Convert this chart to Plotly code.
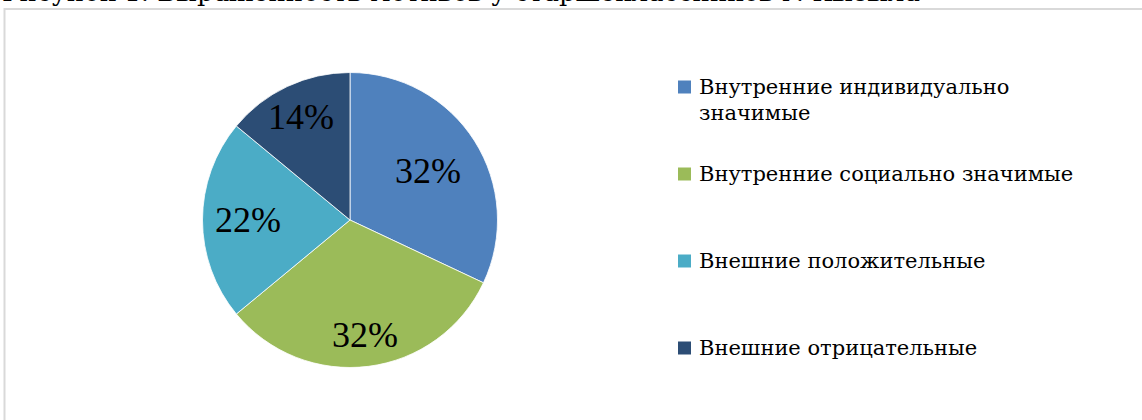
import math
import textwrap
import plotly.graph_objects as go

# Motive groups and their shares, %
categories = [
    "Внутренние индивидуально значимые",
    "Внутренние социально значимые",
    "Внешние положительные",
    "Внешние отрицательные",
]
shares = [32, 32, 22, 14]
colors = ["#4F81BD", "#9BBB59", "#4BACC6", "#2C4D75"]
caption = "Рисунок 1. Выраженность мотивов у старшеклассников г. Кызыла"

# radial placement of each data label, as a fraction of the radius
label_radius = [0.625, 0.785, 0.69, 0.775]

W, H = 1142, 420
SERIF = "Liberation Serif, DejaVu Serif, serif"
TEXT_SERIF = "DejaVu Serif, Liberation Serif, serif"


def px_x(x):
    return x / W


def px_y(y):
    return 1 - y / H


# pie centre and radius in pixels
cx, cy, r = 350, 220, 147.5

fig = go.Figure(
    go.Pie(
        labels=categories,
        values=shares,
        sort=False,
        direction="clockwise",
        rotation=0,
        marker=dict(colors=colors, line=dict(color="#FFFFFF", width=0.8)),
        textinfo="none",
        hoverinfo="label+percent",
        showlegend=False,
        domain=dict(
            x=[px_x(cx - r), px_x(cx + r)],
            y=[px_y(cy + r), px_y(cy - r)],
        ),
    )
)

shapes = [
    # chart frame
    dict(
        type="rect", xref="paper", yref="paper",
        x0=px_x(4.5), x1=px_x(W + 10), y0=px_y(H + 10), y1=px_y(9),
        line=dict(color="#D9D9D9", width=2), fillcolor="rgba(0,0,0,0)",
        layer="below",
    )
]
annotations = [
    dict(
        text=caption, xref="paper", yref="paper",
        x=px_x(0), y=px_y(9), xanchor="left", yanchor="bottom",
        showarrow=False, font=dict(family=TEXT_SERIF, size=26, color="#000000"),
    )
]

# percentage labels at the middle angle of each slice
total = sum(shares)
cum = 0
for v, frac in zip(shares, label_radius):
    mid = (cum + v / 2) / total * 2 * math.pi
    cum += v
    lx = cx + frac * r * math.sin(mid)
    ly = cy - frac * r * math.cos(mid)
    annotations.append(dict(
        text=f"{v}%", xref="paper", yref="paper",
        x=px_x(lx), y=px_y(ly), xanchor="center", yanchor="middle",
        showarrow=False, font=dict(family=SERIF, size=36, color="#000000"),
    ))

# legend: square marker + (possibly wrapped) label per category
row0, row_step, line_step = 87, 87, 26
sq = 13
for i, (name, col) in enumerate(zip(categories, colors)):
    yc = row0 + i * row_step
    shapes.append(dict(
        type="rect", xref="paper", yref="paper",
        x0=px_x(678), x1=px_x(678 + sq),
        y0=px_y(yc + sq / 2), y1=px_y(yc - sq / 2),
        fillcolor=col, line=dict(width=0),
    ))
    for j, line in enumerate(textwrap.wrap(name, 30)):
        annotations.append(dict(
            text=line, xref="paper", yref="paper",
            x=px_x(697), y=px_y(yc + j * line_step),
            xanchor="left", yanchor="middle", showarrow=False,
            font=dict(family=TEXT_SERIF, size=21, color="#000000"),
        ))

fig.update_layout(
    width=W, height=H,
    margin=dict(l=0, r=0, t=0, b=0),
    paper_bgcolor="#FFFFFF",
    plot_bgcolor="#FFFFFF",
    shapes=shapes,
    annotations=annotations,
)

fig.write_html("out.html")
